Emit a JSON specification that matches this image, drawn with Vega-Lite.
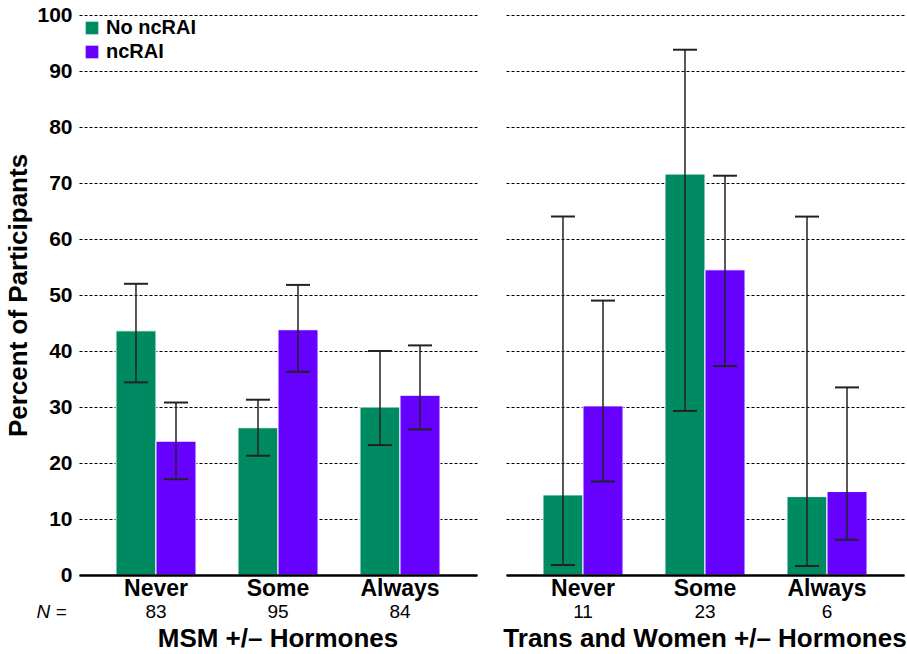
{
  "$schema": "https://vega.github.io/schema/vega-lite/v6.json",
  "datasets": {
    "msm": [
      {"cat": "Never", "group": "No ncRAI", "pct": 43.6, "lo": 34.4, "hi": 52.0, "n": 83},
      {"cat": "Never", "group": "ncRAI", "pct": 23.9, "lo": 17.1, "hi": 30.8, "n": 83},
      {"cat": "Some", "group": "No ncRAI", "pct": 26.3, "lo": 21.3, "hi": 31.3, "n": 95},
      {"cat": "Some", "group": "ncRAI", "pct": 43.8, "lo": 36.3, "hi": 51.8, "n": 95},
      {"cat": "Always", "group": "No ncRAI", "pct": 30.0, "lo": 23.2, "hi": 40.0, "n": 84},
      {"cat": "Always", "group": "ncRAI", "pct": 32.1, "lo": 26.0, "hi": 41.0, "n": 84}
    ],
    "trans": [
      {"cat": "Never", "group": "No ncRAI", "pct": 14.3, "lo": 1.8, "hi": 64.0, "n": 11},
      {"cat": "Never", "group": "ncRAI", "pct": 30.2, "lo": 16.7, "hi": 49.0, "n": 11},
      {"cat": "Some", "group": "No ncRAI", "pct": 71.6, "lo": 29.3, "hi": 93.8, "n": 23},
      {"cat": "Some", "group": "ncRAI", "pct": 54.5, "lo": 37.3, "hi": 71.3, "n": 23},
      {"cat": "Always", "group": "No ncRAI", "pct": 14.0, "lo": 1.6, "hi": 64.0, "n": 6},
      {"cat": "Always", "group": "ncRAI", "pct": 14.9, "lo": 6.3, "hi": 33.5, "n": 6}
    ]
  },
  "config": {
    "font": "Liberation Sans",
    "view": {"stroke": null}
  },
  "padding": {"left": 5, "top": 4, "right": 3, "bottom": 0},
  "spacing": 26,
  "resolve": {"legend": {"color": "independent"}},
  "hconcat": [
    {
      "width": 398,
      "height": 560,
      "data": {"name": "msm"},
      "title": {"text": "MSM +/– Hormones", "orient": "bottom", "fontSize": 26, "fontWeight": "bold", "color": "black", "offset": 4},
      "encoding": {
        "x": {
          "field": "cat", "type": "nominal", "sort": ["Never", "Some", "Always"],
          "scale": {"paddingInner": 0.344, "paddingOuter": 0.303},
          "axis": {
            "title": "N =", "titleFontStyle": "italic", "titleFontWeight": "normal", "titleFontSize": 19,
            "titleColor": "black", "titleAlign": "left", "titleAnchor": null, "titleBaseline": "middle",
            "titleX": -43, "titleY": 36,
            "labelFontSize": 23, "labelFontWeight": "bold", "labelColor": "black", "labelAngle": 0,
            "labelPadding": 2, "ticks": false, "domainColor": "black", "domainWidth": 2.5, "zindex": 1
          }
        }
      },
      "layer": [
        {
          "mark": {"type": "bar", "stroke": "white", "strokeWidth": 1},
          "encoding": {
            "xOffset": {"field": "group", "type": "nominal", "sort": ["No ncRAI", "ncRAI"]},
            "y": {
              "field": "pct", "type": "quantitative", "scale": {"domain": [0, 100]},
              "title": "Percent of Participants",
              "axis": {
                "values": [0, 10, 20, 30, 40, 50, 60, 70, 80, 90, 100],
                "grid": true, "gridColor": "black", "gridDash": [3, 2], "gridWidth": 1,
                "domain": false, "ticks": false,
                "labelFontSize": 21, "labelFontWeight": "bold", "labelColor": "black", "labelPadding": 7,
                "titleFontSize": 26, "titleFontWeight": "bold", "titleColor": "black", "titlePadding": 5
              }
            },
            "color": {
              "field": "group", "type": "nominal",
              "scale": {"domain": ["No ncRAI", "ncRAI"], "range": ["#008a62", "#6600ff"]},
              "legend": {
                "orient": "top-left", "title": null, "offset": 3, "padding": 0,
                "labelFontSize": 20, "labelFontWeight": "bold", "labelColor": "black",
                "symbolType": "square", "symbolSize": 160, "symbolStrokeWidth": 0, "symbolOpacity": 1,
                "rowPadding": 4, "labelOffset": 4
              }
            }
          }
        },
        {
          "mark": {"type": "rule", "color": "#222222", "strokeWidth": 1.5},
          "encoding": {
            "xOffset": {"field": "group", "type": "nominal", "sort": ["No ncRAI", "ncRAI"]},
            "y": {"field": "lo", "type": "quantitative", "title": "Percent of Participants"},
            "y2": {"field": "hi"}
          }
        },
        {
          "mark": {"type": "tick", "color": "#222222", "thickness": 2, "size": 24, "orient": "horizontal", "opacity": 1},
          "encoding": {
            "xOffset": {"field": "group", "type": "nominal", "sort": ["No ncRAI", "ncRAI"]},
            "y": {"field": "hi", "type": "quantitative", "title": "Percent of Participants"}
          }
        },
        {
          "mark": {"type": "tick", "color": "#222222", "thickness": 2, "size": 24, "orient": "horizontal", "opacity": 1},
          "encoding": {
            "xOffset": {"field": "group", "type": "nominal", "sort": ["No ncRAI", "ncRAI"]},
            "y": {"field": "lo", "type": "quantitative", "title": "Percent of Participants"}
          }
        },
        {
          "transform": [{"filter": "datum.group == 'No ncRAI'"}],
          "mark": {"type": "text", "dy": 37, "fontSize": 19, "color": "black", "baseline": "middle"},
          "encoding": {
            "y": {"datum": 0},
            "text": {"field": "n", "type": "quantitative"}
          }
        }
      ]
    },
    {
      "width": 398,
      "height": 560,
      "data": {"name": "trans"},
      "title": {"text": "Trans and Women +/– Hormones", "orient": "bottom", "fontSize": 26, "fontWeight": "bold", "color": "black", "offset": 4},
      "encoding": {
        "x": {
          "field": "cat", "type": "nominal", "sort": ["Never", "Some", "Always"],
          "scale": {"paddingInner": 0.344, "paddingOuter": 0.303},
          "axis": {
            "title": "N =", "titleOpacity": 0, "titleFontStyle": "italic", "titleFontWeight": "normal", "titleFontSize": 19,
            "titleAlign": "left", "titleAnchor": null, "titleBaseline": "middle",
            "titleX": 10, "titleY": 36,
            "labelFontSize": 23, "labelFontWeight": "bold", "labelColor": "black", "labelAngle": 0,
            "labelPadding": 2, "ticks": false, "domainColor": "black", "domainWidth": 2.5, "zindex": 1
          }
        }
      },
      "layer": [
        {
          "mark": {"type": "bar", "stroke": "white", "strokeWidth": 1},
          "encoding": {
            "xOffset": {"field": "group", "type": "nominal", "sort": ["No ncRAI", "ncRAI"]},
            "y": {
              "field": "pct", "type": "quantitative", "scale": {"domain": [0, 100]},
              "title": null,
              "axis": {
                "values": [0, 10, 20, 30, 40, 50, 60, 70, 80, 90, 100],
                "grid": true, "gridColor": "black", "gridDash": [3, 2], "gridWidth": 1,
                "domain": false, "ticks": false, "labels": false, "title": null
              }
            },
            "color": {
              "field": "group", "type": "nominal",
              "scale": {"domain": ["No ncRAI", "ncRAI"], "range": ["#008a62", "#6600ff"]},
              "legend": null
            }
          }
        },
        {
          "mark": {"type": "rule", "color": "#222222", "strokeWidth": 1.5},
          "encoding": {
            "xOffset": {"field": "group", "type": "nominal", "sort": ["No ncRAI", "ncRAI"]},
            "y": {"field": "lo", "type": "quantitative", "title": null},
            "y2": {"field": "hi"}
          }
        },
        {
          "mark": {"type": "tick", "color": "#222222", "thickness": 2, "size": 24, "orient": "horizontal", "opacity": 1},
          "encoding": {
            "xOffset": {"field": "group", "type": "nominal", "sort": ["No ncRAI", "ncRAI"]},
            "y": {"field": "hi", "type": "quantitative", "title": null}
          }
        },
        {
          "mark": {"type": "tick", "color": "#222222", "thickness": 2, "size": 24, "orient": "horizontal", "opacity": 1},
          "encoding": {
            "xOffset": {"field": "group", "type": "nominal", "sort": ["No ncRAI", "ncRAI"]},
            "y": {"field": "lo", "type": "quantitative", "title": null}
          }
        },
        {
          "transform": [{"filter": "datum.group == 'No ncRAI'"}],
          "mark": {"type": "text", "dy": 37, "fontSize": 19, "color": "black", "baseline": "middle"},
          "encoding": {
            "y": {"datum": 0},
            "text": {"field": "n", "type": "quantitative"}
          }
        }
      ]
    }
  ]
}
